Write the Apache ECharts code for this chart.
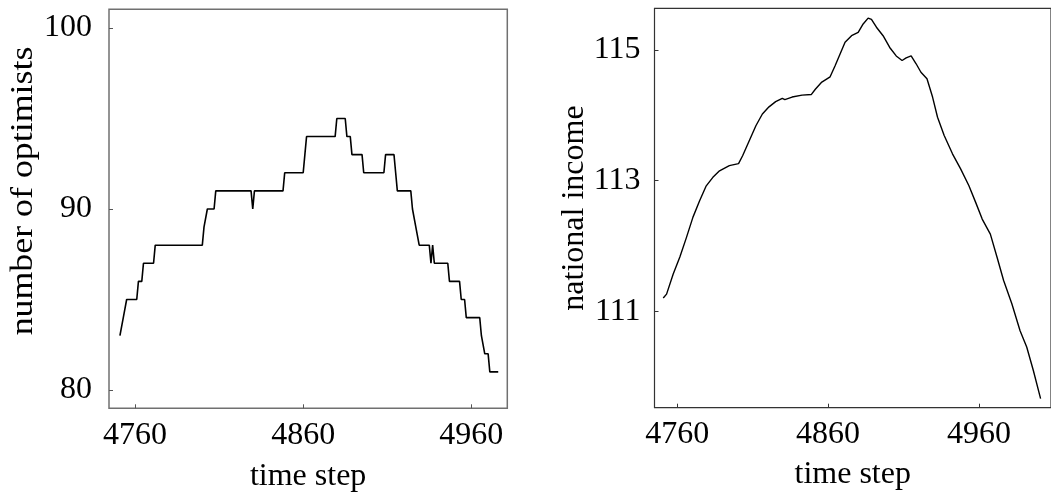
<!DOCTYPE html>
<html><head><meta charset="utf-8">
<script src="https://cdn.jsdelivr.net/npm/echarts@6/dist/echarts.min.js"></script>
<style>html,body{margin:0;padding:0;background:#fff}#c{width:1051px;height:500px}</style>
</head><body><div id="c"></div>
<script>
// Left panel: number of optimists (step changes)
const optimistTime = [4751,4752,4753,4754,4755,4761,4762,4764,4765,4771,4772,4800,4801,4802,4803,4807,4808,4829,4830,4831,4848,4849,4860,4861,4862,4879,4880,4885,4886,4888,4889,4895,4896,4908,4909,4914,4915,4916,4924,4925,4926,4927,4928,4929,4935,4936,4937,4938,4946,4947,4953,4954,4956,4957,4965,4966,4967,4968,4970,4971,4976];
const optimistCount = [83,83,84,84,85,85,86,86,87,87,88,88,89,89,90,90,91,91,90,91,91,92,92,93,94,94,95,95,94,94,93,93,92,92,93,93,92,91,91,90,90,89,89,88,88,87,88,87,87,86,86,85,85,84,84,83,83,82,82,81,81];
// Right panel: national income
const incomeTime = [4750.8,4753.0,4757.4,4761.8,4766.2,4770.5,4774.9,4779.3,4783.7,4788.1,4794.6,4800.7,4803.4,4807.8,4812.2,4816.5,4820.9,4825.3,4829.7,4831.4,4836.2,4842.8,4849.0,4851.6,4855.9,4861.4,4864.7,4868.0,4871.3,4875.6,4880.0,4883.3,4886.6,4888.8,4892.1,4896.5,4900.9,4905.2,4909.1,4911.8,4915.1,4918.4,4921.6,4925.6,4929.3,4932.6,4937.0,4942.5,4947.9,4953.4,4957.8,4962.2,4967.6,4972.0,4976.4,4981.9,4987.3,4991.7,4996.1,5000.9];
const incomeValue = [111.20,111.26,111.57,111.83,112.13,112.44,112.69,112.92,113.05,113.15,113.23,113.26,113.38,113.61,113.84,114.02,114.13,114.21,114.26,114.24,114.28,114.31,114.32,114.40,114.51,114.59,114.76,114.94,115.12,115.22,115.27,115.40,115.49,115.47,115.35,115.22,115.04,114.91,114.84,114.88,114.91,114.79,114.66,114.56,114.28,113.97,113.69,113.41,113.18,112.92,112.67,112.41,112.18,111.83,111.47,111.11,110.70,110.45,110.09,109.66];
// Tick labels
const timeTicks = [4760, 4860, 4960];
const optimistTicks = [80, 90, 100];
const incomeTicks = [111, 113, 115];
const xTitle = 'time step';
const leftTitle = 'number of optimists';
const rightTitle = 'national income';

const FONT = 'Liberation Serif, Times New Roman, serif';
const chart = echarts.init(document.getElementById('c'), null, {renderer: 'canvas'});
const plain = v => String(v);

function xAxisCfg(gi, min, max, col, gap) {
  return {
    gridIndex: gi, type: 'value', min: min, max: max,
    axisLine: {show: false}, splitLine: {show: false},
    axisTick: {show: true, inside: true, length: 4, customValues: timeTicks, lineStyle: {color: col, width: 1}},
    axisLabel: {customValues: timeTicks, formatter: plain, margin: 11, fontFamily: FONT, fontSize: 32, color: '#000'},
    name: xTitle, nameLocation: 'middle', nameGap: gap,
    nameTextStyle: {fontFamily: FONT, fontSize: 32, color: '#000'}
  };
}
function yAxisCfg(gi, min, max, ticks, col, margin) {
  return {
    gridIndex: gi, type: 'value', min: min, max: max,
    axisLine: {show: false}, splitLine: {show: false},
    axisTick: {show: true, inside: true, length: 4, customValues: ticks, lineStyle: {color: col, width: 1}},
    axisLabel: {customValues: ticks, formatter: plain, margin: margin, fontFamily: FONT, fontSize: 32, color: '#000'}
  };
}

chart.setOption({
  animation: false,
  backgroundColor: '#fff',
  grid: [
    {left: 109, top: 9.3, width: 398.3, height: 399, show: true, borderColor: '#707070', borderWidth: 1.5, backgroundColor: 'transparent'},
    {left: 654.5, top: 8.3, width: 400, height: 399.4, show: true, borderColor: '#333', borderWidth: 1.2, backgroundColor: 'transparent'}
  ],
  xAxis: [
    xAxisCfg(0, 4744.5, 4981.4, '#555', 52),
    xAxisCfg(1, 4745.0, 5007.8, '#333', 51)
  ],
  yAxis: [
    yAxisCfg(0, 78.99, 101.03, optimistTicks, '#555', 17),
    yAxisCfg(1, 109.52, 115.64, incomeTicks, '#333', 14)
  ],
  graphic: [
    {type: 'text', x: 24, y: 191, rotation: Math.PI / 2, scaleX: 1.12,
     style: {text: leftTitle, font: '32px ' + FONT, fill: '#000', textAlign: 'center', textVerticalAlign: 'middle'}},
    {type: 'text', x: 575, y: 208, rotation: Math.PI / 2,
     style: {text: rightTitle, font: '32px ' + FONT, fill: '#000', textAlign: 'center', textVerticalAlign: 'middle'}}
  ],
  series: [
    {type: 'line', xAxisIndex: 0, yAxisIndex: 0, showSymbol: false,
     data: optimistTime.map((t, i) => [t, optimistCount[i]]),
     lineStyle: {color: '#000', width: 1.6}},
    {type: 'line', xAxisIndex: 1, yAxisIndex: 1, showSymbol: false,
     data: incomeTime.map((t, i) => [t, incomeValue[i]]),
     lineStyle: {color: '#000', width: 1.4}}
  ]
});
</script></body></html>
